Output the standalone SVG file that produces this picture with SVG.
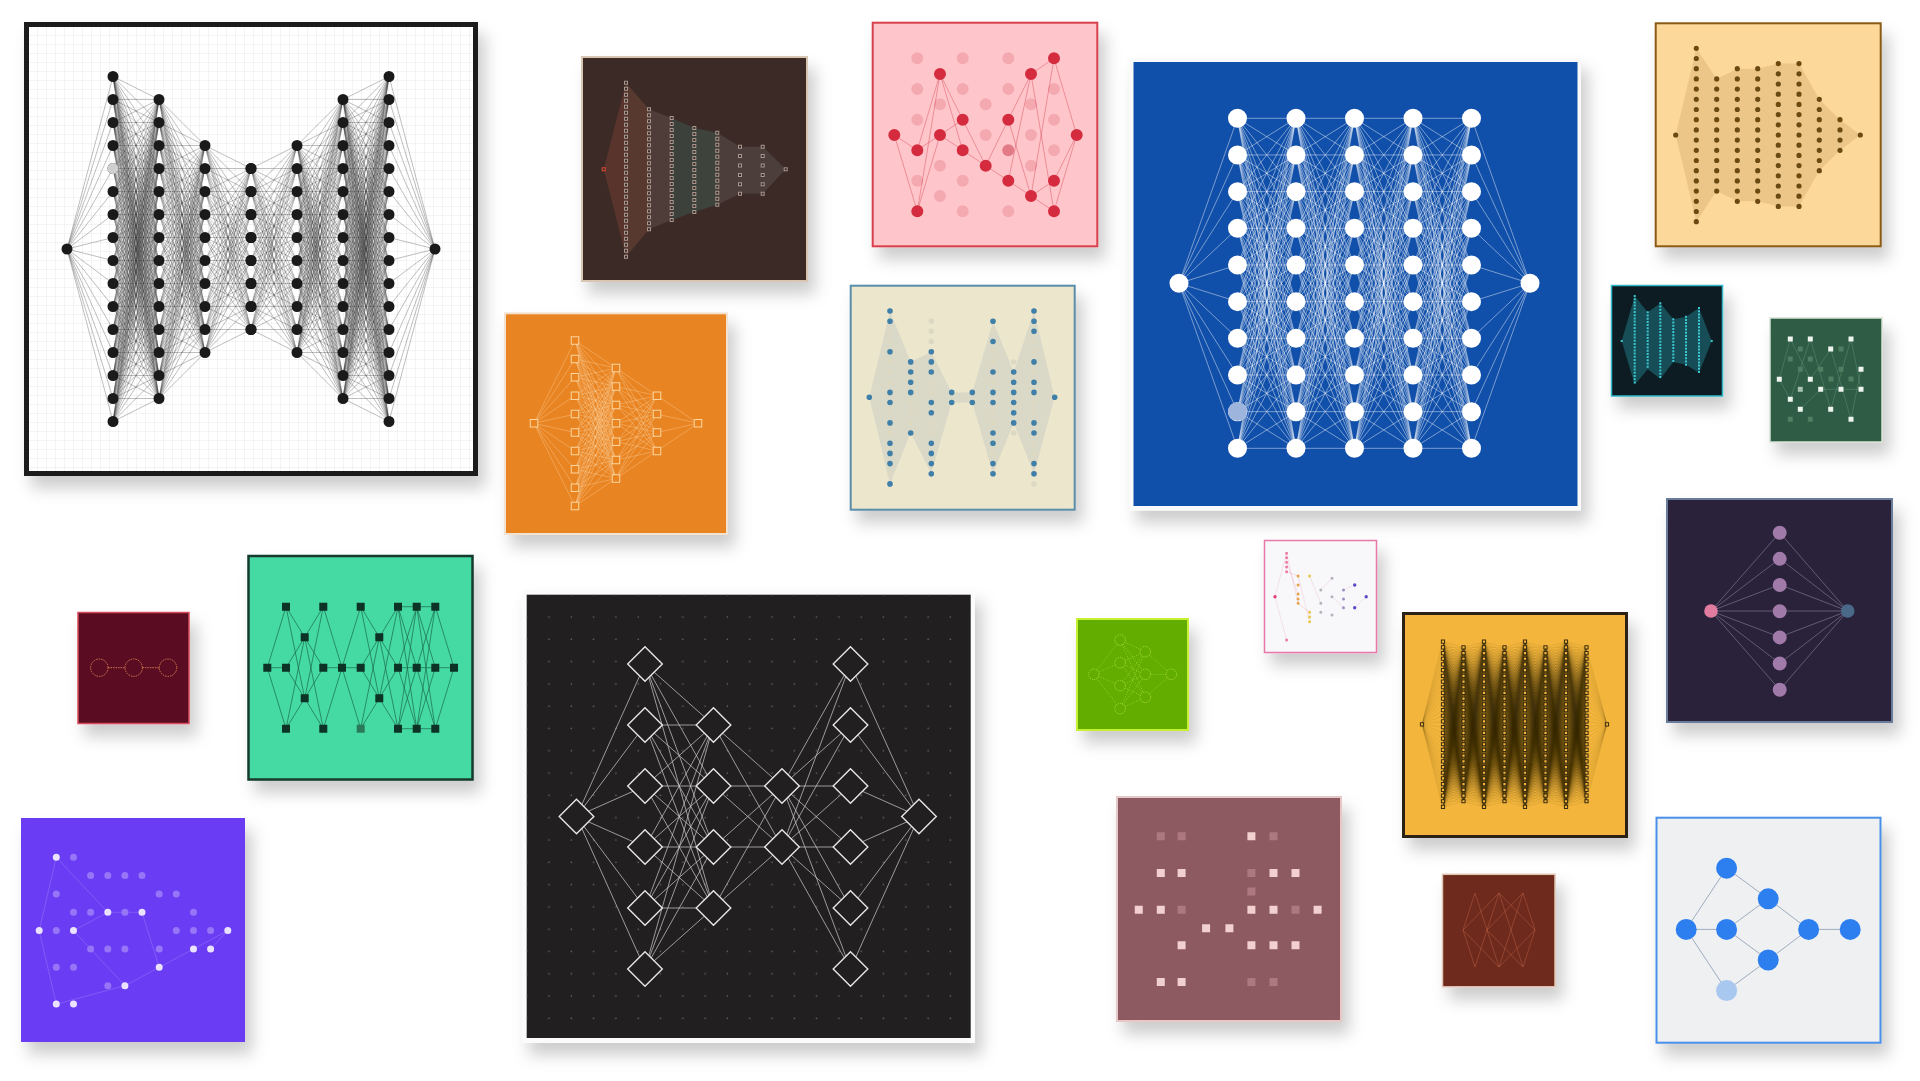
<svg xmlns="http://www.w3.org/2000/svg" width="1920" height="1081" viewBox="0 0 1920 1081">
<style>
.e{fill:none;vector-effect:non-scaling-stroke}
.sh{filter:url(#sh)}
.rd{fill:none;stroke-linecap:round}
.sq{fill:none;stroke-linecap:square}
</style>
<defs>
<filter id="sh" x="-20%" y="-20%" width="150%" height="150%"><feDropShadow dx="7" dy="12" stdDeviation="8" flood-color="#000" flood-opacity=".2"/></filter>
<pattern id="grid" width="9" height="9" patternUnits="userSpaceOnUse" x="29" y="27"><path d="M9 0V9H0" fill="none" stroke="#e3e3e3" stroke-width=".8"/></pattern>
<pattern id="dg" width="22.3" height="22.3" patternUnits="userSpaceOnUse" x="538" y="606"><circle cx="11" cy="11" r=".8" fill="#6a6a6a"/></pattern>
<path id="f2" class="e" d="M0 0 2-.5M0 0 2 .5"/>
<path id="f4" class="e" d="M0 0 2-1.5M0 0 2-.5M0 0 2 .5M0 0 2 1.5"/>
<path id="f6" class="e" d="M0 0 2-2.5M0 0 2-1.5M0 0 2-.5M0 0 2 .5M0 0 2 1.5M0 0 2 2.5"/>
<path id="f7" class="e" d="M0 0 2-3M0 0 2-2M0 0 2-1M0 0 2 0M0 0 2 1M0 0 2 2M0 0 2 3"/>
<path id="f8" class="e" d="M0 0 2-3.5M0 0 2-2.5M0 0 2-1.5M0 0 2-.5M0 0 2 .5M0 0 2 1.5M0 0 2 2.5M0 0 2 3.5"/>
<path id="f10" class="e" d="M0 0 2-4.5M0 0 2-3.5M0 0 2-2.5M0 0 2-1.5M0 0 2-.5M0 0 2 .5M0 0 2 1.5M0 0 2 2.5M0 0 2 3.5M0 0 2 4.5"/>
<path id="f14" class="e" d="M0 0 2-6.5M0 0 2-5.5M0 0 2-4.5M0 0 2-3.5M0 0 2-2.5M0 0 2-1.5M0 0 2-.5M0 0 2 .5M0 0 2 1.5M0 0 2 2.5M0 0 2 3.5M0 0 2 4.5M0 0 2 5.5M0 0 2 6.5"/>
<path id="f16" class="e" d="M0 0 2-7.5M0 0 2-6.5M0 0 2-5.5M0 0 2-4.5M0 0 2-3.5M0 0 2-2.5M0 0 2-1.5M0 0 2-.5M0 0 2 .5M0 0 2 1.5M0 0 2 2.5M0 0 2 3.5M0 0 2 4.5M0 0 2 5.5M0 0 2 6.5M0 0 2 7.5"/>
<path id="f28" class="e" d="M0 0 2-13.5M0 0 2-12.5M0 0 2-11.5M0 0 2-10.5M0 0 2-9.5M0 0 2-8.5M0 0 2-7.5M0 0 2-6.5M0 0 2-5.5M0 0 2-4.5M0 0 2-3.5M0 0 2-2.5M0 0 2-1.5M0 0 2-.5M0 0 2 .5M0 0 2 1.5M0 0 2 2.5M0 0 2 3.5M0 0 2 4.5M0 0 2 5.5M0 0 2 6.5M0 0 2 7.5M0 0 2 8.5M0 0 2 9.5M0 0 2 10.5M0 0 2 11.5M0 0 2 12.5M0 0 2 13.5"/>
<path id="f30" class="e" d="M0 0 2-14.5M0 0 2-13.5M0 0 2-12.5M0 0 2-11.5M0 0 2-10.5M0 0 2-9.5M0 0 2-8.5M0 0 2-7.5M0 0 2-6.5M0 0 2-5.5M0 0 2-4.5M0 0 2-3.5M0 0 2-2.5M0 0 2-1.5M0 0 2-.5M0 0 2 .5M0 0 2 1.5M0 0 2 2.5M0 0 2 3.5M0 0 2 4.5M0 0 2 5.5M0 0 2 6.5M0 0 2 7.5M0 0 2 8.5M0 0 2 9.5M0 0 2 10.5M0 0 2 11.5M0 0 2 12.5M0 0 2 13.5M0 0 2 14.5"/>
<g id="b1">
<use href="#f14" transform="matrix(1 3.75 0 1 0 -7.5)"/><use href="#f14" transform="matrix(1 3.25 0 1 0 -6.5)"/><use href="#f14" transform="matrix(1 2.75 0 1 0 -5.5)"/><use href="#f14" transform="matrix(1 2.25 0 1 0 -4.5)"/><use href="#f14" transform="matrix(1 1.75 0 1 0 -3.5)"/><use href="#f14" transform="matrix(1 1.25 0 1 0 -2.5)"/><use href="#f14" transform="matrix(1 .75 0 1 0 -1.5)"/><use href="#f14" transform="matrix(1 .25 0 1 0 -.5)"/><use href="#f14" transform="matrix(1 -.25 0 1 0 .5)"/><use href="#f14" transform="matrix(1 -.75 0 1 0 1.5)"/><use href="#f14" transform="matrix(1 -1.25 0 1 0 2.5)"/><use href="#f14" transform="matrix(1 -1.75 0 1 0 3.5)"/><use href="#f14" transform="matrix(1 -2.25 0 1 0 4.5)"/><use href="#f14" transform="matrix(1 -2.75 0 1 0 5.5)"/><use href="#f14" transform="matrix(1 -3.25 0 1 0 6.5)"/><use href="#f14" transform="matrix(1 -3.75 0 1 0 7.5)"/>
</g>
<g id="b2">
<use href="#f10" transform="matrix(1 3.25 0 1 0 -6.5)"/><use href="#f10" transform="matrix(1 2.75 0 1 0 -5.5)"/><use href="#f10" transform="matrix(1 2.25 0 1 0 -4.5)"/><use href="#f10" transform="matrix(1 1.75 0 1 0 -3.5)"/><use href="#f10" transform="matrix(1 1.25 0 1 0 -2.5)"/><use href="#f10" transform="matrix(1 .75 0 1 0 -1.5)"/><use href="#f10" transform="matrix(1 .25 0 1 0 -.5)"/><use href="#f10" transform="matrix(1 -.25 0 1 0 .5)"/><use href="#f10" transform="matrix(1 -.75 0 1 0 1.5)"/><use href="#f10" transform="matrix(1 -1.25 0 1 0 2.5)"/><use href="#f10" transform="matrix(1 -1.75 0 1 0 3.5)"/><use href="#f10" transform="matrix(1 -2.25 0 1 0 4.5)"/><use href="#f10" transform="matrix(1 -2.75 0 1 0 5.5)"/><use href="#f10" transform="matrix(1 -3.25 0 1 0 6.5)"/>
</g>
<g id="b3">
<use href="#f8" transform="matrix(1 2.25 0 1 0 -4.5)"/><use href="#f8" transform="matrix(1 1.75 0 1 0 -3.5)"/><use href="#f8" transform="matrix(1 1.25 0 1 0 -2.5)"/><use href="#f8" transform="matrix(1 .75 0 1 0 -1.5)"/><use href="#f8" transform="matrix(1 .25 0 1 0 -.5)"/><use href="#f8" transform="matrix(1 -.25 0 1 0 .5)"/><use href="#f8" transform="matrix(1 -.75 0 1 0 1.5)"/><use href="#f8" transform="matrix(1 -1.25 0 1 0 2.5)"/><use href="#f8" transform="matrix(1 -1.75 0 1 0 3.5)"/><use href="#f8" transform="matrix(1 -2.25 0 1 0 4.5)"/>
</g>
<g id="b4">
<use href="#f10" transform="matrix(1 2.25 0 1 0 -4.5)"/><use href="#f10" transform="matrix(1 1.75 0 1 0 -3.5)"/><use href="#f10" transform="matrix(1 1.25 0 1 0 -2.5)"/><use href="#f10" transform="matrix(1 .75 0 1 0 -1.5)"/><use href="#f10" transform="matrix(1 .25 0 1 0 -.5)"/><use href="#f10" transform="matrix(1 -.25 0 1 0 .5)"/><use href="#f10" transform="matrix(1 -.75 0 1 0 1.5)"/><use href="#f10" transform="matrix(1 -1.25 0 1 0 2.5)"/><use href="#f10" transform="matrix(1 -1.75 0 1 0 3.5)"/><use href="#f10" transform="matrix(1 -2.25 0 1 0 4.5)"/>
</g>
<g id="b5">
<use href="#f7" transform="matrix(1 2.25 0 1 0 -4.5)"/><use href="#f7" transform="matrix(1 1.75 0 1 0 -3.5)"/><use href="#f7" transform="matrix(1 1.25 0 1 0 -2.5)"/><use href="#f7" transform="matrix(1 .75 0 1 0 -1.5)"/><use href="#f7" transform="matrix(1 .25 0 1 0 -.5)"/><use href="#f7" transform="matrix(1 -.25 0 1 0 .5)"/><use href="#f7" transform="matrix(1 -.75 0 1 0 1.5)"/><use href="#f7" transform="matrix(1 -1.25 0 1 0 2.5)"/><use href="#f7" transform="matrix(1 -1.75 0 1 0 3.5)"/><use href="#f7" transform="matrix(1 -2.25 0 1 0 4.5)"/>
</g>
<g id="b6">
<use href="#f4" transform="matrix(1 1.5 0 1 0 -3)"/><use href="#f4" transform="matrix(1 1 0 1 0 -2)"/><use href="#f4" transform="matrix(1 .5 0 1 0 -1)"/><use href="#f4"/><use href="#f4" transform="matrix(1 -.5 0 1 0 1)"/><use href="#f4" transform="matrix(1 -1 0 1 0 2)"/><use href="#f4" transform="matrix(1 -1.5 0 1 0 3)"/>
</g>
<g id="b7">
<use href="#f4" transform="matrix(1 1.25 0 1 0 -2.5)"/><use href="#f4" transform="matrix(1 .75 0 1 0 -1.5)"/><use href="#f4" transform="matrix(1 .25 0 1 0 -.5)"/><use href="#f4" transform="matrix(1 -.25 0 1 0 .5)"/><use href="#f4" transform="matrix(1 -.75 0 1 0 1.5)"/><use href="#f4" transform="matrix(1 -1.25 0 1 0 2.5)"/>
</g>
<g id="b8">
<use href="#f2" transform="matrix(1 .75 0 1 0 -1.5)"/><use href="#f2" transform="matrix(1 .25 0 1 0 -.5)"/><use href="#f2" transform="matrix(1 -.25 0 1 0 .5)"/><use href="#f2" transform="matrix(1 -.75 0 1 0 1.5)"/>
</g>
<g id="b9">
<use href="#f6" transform="matrix(1 .25 0 1 0 -.5)"/><use href="#f6" transform="matrix(1 -.25 0 1 0 .5)"/>
</g>
<g id="g3"><use href="#f28" transform="matrix(1 .5 0 1 0 -1)"/><use href="#f28"/><use href="#f28" transform="matrix(1 -.5 0 1 0 1)"/></g>
<g id="g7"><use href="#g3" transform="matrix(1 1 0 1 0 -2)"/><use href="#f28"/><use href="#g3" transform="matrix(1 -1 0 1 0 2)"/></g>
<g id="g15"><use href="#g7" transform="matrix(1 2 0 1 0 -4)"/><use href="#f28"/><use href="#g7" transform="matrix(1 -2 0 1 0 4)"/></g>
<g id="bb"><use href="#g15" transform="matrix(1 3.75 0 1 0 -7.5)"/><use href="#g15" transform="matrix(1 -3.75 0 1 0 7.5)"/></g>
</defs>

<rect width="1920" height="1081" fill="#ffffff"/>

<!-- Panel 1: white grid -->
<g id="panel1">
<rect x="26.5" y="24.5" width="449" height="449" fill="#fff" stroke="#1c1c1c" stroke-width="5" class="sh"/>
<rect x="29" y="27" width="444" height="444" fill="url(#grid)"/>
<g id="p1h">
<g stroke="#3a3a3a" stroke-opacity=".55" stroke-width=".6">
<use href="#f16" transform="translate(67 249) scale(23)"/>
<use href="#b1" transform="translate(113 249) scale(23)"/>
<use href="#b2" transform="translate(159 249) scale(23)"/>
<use href="#b3" transform="translate(205 249) scale(23)"/>
</g>
<g class="rd" stroke="#1a1a1a" stroke-width="11" stroke-dasharray="0 23">
<path d="M113 76.5V422"/><path d="M159 99.5V399"/><path d="M205 145.5V353"/><path d="M251 168.5V330"/>
</g>
<circle cx="67" cy="249" r="5.5" fill="#1a1a1a"/>
</g>
<use href="#p1h" transform="matrix(-1 0 0 1 502 0)"/>
<circle cx="113" cy="168.5" r="5.5" fill="#cfcfcf"/>
</g>

<!-- Panel 2: dark brown -->
<g id="panel2">
<rect x="582" y="57" width="225" height="224" fill="#3b2b27" stroke="#d9c6b2" stroke-width="2" class="sh"/>
<g fill-opacity=".2">
<path d="M603.7 169.3 626 82.7V256.7Z" fill="#d0604a"/>
<path d="M626 82.7 649 109.3V229.3L626 256.7Z" fill="#c87a5a"/>
<path d="M649 109.3 671.7 118V220L649 229.3Z" fill="#a08a88"/>
<path d="M671.7 118 694.3 128V212L671.7 220Z" fill="#3fa090"/>
<path d="M694.3 128 717.3 132.7V204.7L694.3 212Z" fill="#4aa898"/>
<path d="M717.3 132.7 740 146.7V193.7L717.3 204.7Z" fill="#8a9090"/>
<path d="M740 146.7 762.7 146.7V193.7L740 193.7Z" fill="#909090"/>
<path d="M762.7 146.7 785.7 169.3 762.7 193.7Z" fill="#909090"/>
</g>
<g class="sq" stroke="#a89890" stroke-width="4">
<path d="M626 82.7V257.5M649 109.3V230M671.7 118V221M694.3 128V213M717.3 132.7V205.5" stroke-dasharray="0 6"/>
<path d="M740 146.7V194.5M762.7 146.7V194.5" stroke-dasharray="0 9.4"/>
<path d="M785.7 169.3h0"/>
<path d="M603.7 169.3h0" stroke="#e04a36"/>
</g>
<g class="sq" stroke="#3b2b27" stroke-width="2">
<path d="M626 82.7V257.5M649 109.3V230M671.7 118V221M694.3 128V213M717.3 132.7V205.5" stroke-dasharray="0 6"/>
<path d="M740 146.7V194.5M762.7 146.7V194.5" stroke-dasharray="0 9.4"/>
<path d="M785.7 169.3h0M603.7 169.3h0"/>
</g>
</g>

<!-- Panel 3: pink -->
<g id="panel3">
<rect x="872.7" y="22.7" width="224.6" height="223.6" fill="#fec6ca" stroke="#d9404e" stroke-width="2" class="sh"/>
<path class="rd" stroke="#f4a9b1" stroke-width="12" d="M917.3 58.3h0M917.3 89h0M917.3 119.7h0M917.3 180.7h0M940 104.3h0M940 165.7h0M940 196h0M962.7 58.3h0M962.7 89h0M962.7 180.7h0M962.7 211.3h0M985.7 104.3h0M985.7 135h0M1008.3 58.3h0M1008.3 89h0M1008.3 211.3h0M1031 104.3h0M1031 135h0M1031 165.7h0M1054 89h0M1054 119.7h0M1054 150.3h0"/>
<path fill="none" stroke="#d23848" stroke-opacity=".5" stroke-width=".8" d="M894.3 135 917.3 150.3M894.3 135 917.3 211.3M917.3 150.3 940 74M917.3 150.3 940 135M917.3 211.3 940 74M917.3 211.3 940 135M940 74 962.7 119.7M940 74 962.7 150.3M940 135 962.7 119.7M940 135 962.7 150.3M962.7 119.7 985.7 165.7M962.7 150.3 985.7 165.7M985.7 165.7 1008.3 119.7M985.7 165.7 1008.3 180.7M1008.3 119.7 1031 74M1008.3 119.7 1031 196M1008.3 180.7 1031 74M1008.3 180.7 1031 196M1031 74 1054 58.3M1031 74 1054 211.3M1031 196 1054 180.7M1031 196 1054 211.3M1031 196 1054 58.3M1054 58.3 1076.7 135M1054 180.7 1076.7 135M1054 211.3 1076.7 135"/>
<path class="rd" stroke="#e27a88" stroke-width="12" d="M1008.3 150.3h0"/>
<path class="rd" stroke="#d52b3f" stroke-width="12" d="M894.3 135h0M917.3 150.3h0M917.3 211.3h0M940 74h0M940 135h0M962.7 119.7h0M962.7 150.3h0M985.7 165.7h0M1008.3 119.7h0M1008.3 180.7h0M1031 74h0M1031 196h0M1054 58.3h0M1054 180.7h0M1054 211.3h0M1076.7 135h0"/>
</g>

<!-- Panel 4: blue -->
<g id="panel4">
<rect x="1129" y="57.5" width="452" height="453" fill="#fafafa" class="sh"/>
<rect x="1133.5" y="62" width="444" height="444" fill="#1150aa"/>
<g stroke="#ffffff" stroke-opacity=".55" stroke-width=".8">
<use href="#f10" transform="translate(1179 283.3) scale(29.25 36.67)"/>
<use href="#b4" transform="translate(1237.5 283.3) scale(29.25 36.67)"/>
<use href="#b4" transform="translate(1296 283.3) scale(29.25 36.67)"/>
<use href="#b4" transform="translate(1354.5 283.3) scale(29.25 36.67)"/>
<use href="#b4" transform="translate(1413 283.3) scale(29.25 36.67)"/>
<use href="#f10" transform="translate(1530 283.3) scale(-29.25 36.67)"/>
</g>
<path class="rd" stroke="#ffffff" stroke-width="19" stroke-dasharray="0 36.67" d="M1237.5 118.3V449M1296 118.3V449M1354.5 118.3V449M1413 118.3V449M1471.5 118.3V449"/>
<path class="rd" stroke="#ffffff" stroke-width="19" d="M1179 283.3h0M1530 283.3h0"/>
<circle cx="1237.5" cy="411.6" r="9.5" fill="#9db4dc"/>
</g>

<!-- Panel 5: peach top right -->
<g id="panel5">
<rect x="1655.7" y="23.3" width="225" height="223" fill="#fcd89a" stroke="#8a5a14" stroke-width="2" class="sh"/>
<g fill="#9a7030" fill-opacity=".17">
<path d="M1675.7 135 1696.3 48.3V221.7Z"/>
<path d="M1696.3 48.3 1716.7 78.9V191.1L1696.3 221.7Z"/>
<path d="M1716.7 78.9 1737.3 68.7V201.3L1716.7 191.1Z"/>
<path d="M1737.3 68.7 1757.7 68.7V201.3L1737.3 201.3Z"/>
<path d="M1757.7 68.7 1778.3 63.6V206.4L1757.7 201.3Z"/>
<path d="M1778.3 63.6 1799 63.6V206.4L1778.3 206.4Z"/>
<path d="M1799 63.6 1819.3 99.3V170.7L1799 206.4Z"/>
<path d="M1819.3 99.3 1840 119.7V150.3L1819.3 170.7Z"/>
<path d="M1840 119.7 1860.3 135 1840 150.3Z"/>
</g>
<path class="rd" stroke="#6b4a12" stroke-width="5.2" stroke-dasharray="0 10.2" d="M1696.3 48.3V222.5M1716.7 78.9V192M1737.3 68.7V202M1757.7 68.7V202M1778.3 63.6V207M1799 63.6V207M1819.3 99.3V171.5M1840 119.7V151"/>
<path class="rd" stroke="#6b4a12" stroke-width="5.2" d="M1675.7 135h0M1860.3 135h0"/>
</g>

<!-- Panel 6: orange -->
<g id="panel6">
<rect x="505" y="313.3" width="222" height="220.7" fill="#e98420" stroke="#f3e2cf" stroke-width="2" class="sh"/>
<g stroke="#fcd9a8" stroke-opacity=".6" stroke-width=".6">
<use href="#f10" transform="translate(534 423.3) scale(20.5 18.4)"/>
<use href="#b5" transform="translate(575 423.3) scale(20.5 18.4)"/>
<use href="#b6" transform="translate(616 423.3) scale(20.5 18.4)"/>
<use href="#f4" transform="translate(698 423.3) scale(-20.5 18.4)"/>
</g>
<g class="sq" stroke="#fbd6a0" stroke-width="8.5">
<path d="M575 340.5V507M616 368.1V479M657 395.7V451.5" stroke-dasharray="0 18.4"/>
<path d="M534 423.3h0M698 423.3h0"/>
</g>
<g class="sq" stroke="#e98420" stroke-width="6.5">
<path d="M575 340.5V507M616 368.1V479M657 395.7V451.5" stroke-dasharray="0 18.4"/>
<path d="M534 423.3h0M698 423.3h0"/>
</g>
</g>

<!-- Panel 7: cream -->
<g id="panel7">
<rect x="850.7" y="285.7" width="224" height="224" fill="#ece6cd" stroke="#5a8ea8" stroke-width="2" class="sh"/>
<g fill="#8aa2b4" fill-opacity=".18">
<path d="M869.3 397.3 890 311V483.9Z"/>
<path d="M890 311 910.7 361.9V433L890 483.9Z"/>
<path d="M910.7 361.9 931.3 351.7V473.7L910.7 433Z"/>
<path d="M931.3 351.7 951.7 392.4V402.5L931.3 473.7Z"/>
<path d="M951.7 392.4H972.3V402.5H951.7Z"/>
<path d="M972.3 392.4 993 321.2V473.7L972.3 402.5Z"/>
<path d="M993 321.2 1013.7 372V422.9L993 473.7Z"/>
<path d="M1013.7 372 1034 311V473.7L1013.7 422.9Z"/>
<path d="M1034 311 1054.7 397.3 1034 473.7Z"/>
</g>
<path class="rd" stroke="#ddd8c2" stroke-width="5.5" stroke-dasharray="0 10.17" d="M890 311V485M910.7 361.9V434M931.3 321.2V474.5M993 321.2V474.5M1013.7 361.9V434M1034 311V485"/>
<path class="rd" stroke="#3f7fa8" stroke-width="5.6" d="M869.3 397.3h0M1054.7 397.3h0M890 311h0M890 321.2h0M890 351.7h0M890 392.4h0M890 402.5h0M890 422.9h0M890 443.2h0M890 453.4h0M890 463.6h0M890 483.9h0M910.7 361.9h0M910.7 372h0M910.7 382.2h0M910.7 392.4h0M910.7 433h0M931.3 351.7h0M931.3 361.9h0M931.3 372h0M931.3 402.5h0M931.3 412.7h0M931.3 443.2h0M931.3 453.4h0M931.3 463.6h0M931.3 473.7h0M951.7 392.4h0M951.7 402.5h0M972.3 392.4h0M972.3 402.5h0M993 321.2h0M993 341.5h0M993 372h0M993 392.4h0M993 402.5h0M993 433h0M993 443.2h0M993 463.6h0M993 473.7h0M1013.7 372h0M1013.7 382.2h0M1013.7 392.4h0M1013.7 402.5h0M1013.7 412.7h0M1013.7 422.9h0M1034 311h0M1034 321.2h0M1034 331.3h0M1034 361.9h0M1034 382.2h0M1034 392.4h0M1034 422.9h0M1034 433h0M1034 463.6h0M1034 473.7h0"/>
</g>

<!-- Panel 8: dark teal -->
<g id="panel8">
<rect x="1611.5" y="285.5" width="111" height="110.5" fill="#0b1a22" stroke="#2fb8c8" stroke-width="1.5" class="sh"/>
<g fill="#2aa8b8" fill-opacity=".35">
<path d="M1621.7 341 1634.7 296V384.7Z"/>
<path d="M1634.7 296 1647.7 312.3V369.3L1634.7 384.7Z"/>
<path d="M1647.7 312.3 1660.3 303.3V378.7L1647.7 369.3Z"/>
<path d="M1660.3 303.3 1673.3 319.3V362L1660.3 378.7Z"/>
<path d="M1673.3 319.3 1686 316.7V364.7L1673.3 362Z"/>
<path d="M1686 316.7 1699 308V372.7L1686 364.7Z"/>
<path d="M1699 308 1711.7 341 1699 372.7Z"/>
</g>
<path class="sq" stroke="#3cc8d0" stroke-width="2" stroke-dasharray="0 3.2" d="M1634.7 296V385.5M1647.7 312.3V369.5M1660.3 303.3V379M1673.3 319.3V362.5M1686 316.7V365M1699 308V373"/>
<path class="sq" stroke="#3cc8d0" stroke-width="2" d="M1621.7 341h0M1711.7 341h0"/>
</g>

<!-- Panel 9: dark green -->
<g id="panel9">
<rect x="1770" y="318" width="112" height="124" fill="#2f5b45" stroke="#d6e2d6" stroke-width="1.5" class="sh"/>
<path fill="none" stroke="#6a9a7c" stroke-opacity=".7" stroke-width=".6" d="M1779.3 379.3 1790.3 339M1779.3 379.3 1790.3 399.3M1790.3 339 1810.3 379.3M1790.3 399.3 1810.3 339M1810.3 339 1830.7 409.3M1810.3 379.3 1830.7 349M1830.7 349 1851 419.3M1830.7 409.3 1851 339M1851 339 1861 389.3M1851 419.3 1861 369.3M1800.3 409.3 1820.7 389.3M1820.7 389.3 1841 389.3M1841 389.3 1861 389.3"/>
<path class="sq" stroke="#4f7e62" stroke-width="5" d="M1800.3 349h0M1790.3 359h0M1810.3 359h0M1800.3 369.3h0M1820.7 369.3h0M1841 369.3h0M1831 379h0M1851 379h0M1790.3 419.3h0M1810.3 419.3h0M1841 349h0"/>
<path class="sq" stroke="#a8c0b0" stroke-width="5" d="M1800.3 389.3h0"/>
<path class="sq" stroke="#eef4ee" stroke-width="5" d="M1790.3 339h0M1810.3 339h0M1851 339h0M1830.7 349h0M1861 369.3h0M1779.3 379.3h0M1810.3 379.3h0M1820.7 389.3h0M1841 389.3h0M1861 389.3h0M1790.3 399.3h0M1800.3 409.3h0M1830.7 409.3h0M1851 419.3h0"/>
</g>

<!-- Panel 10: navy -->
<g id="panel10">
<rect x="1667" y="499" width="225" height="223" fill="#29243a" stroke="#6a7c9c" stroke-width="2" class="sh"/>
<path fill="none" stroke="#6e6a80" stroke-width=".8" d="M1711 611 1779.7 532.7M1711 611 1779.7 558.7M1711 611 1779.7 584.7M1711 611 1779.7 611M1711 611 1779.7 637M1711 611 1779.7 663.3M1711 611 1779.7 689.7M1779.7 532.7 1847.7 611M1779.7 558.7 1847.7 611M1779.7 584.7 1847.7 611M1779.7 611 1847.7 611M1779.7 637 1847.7 611M1779.7 663.3 1847.7 611M1779.7 689.7 1847.7 611"/>
<path class="rd" stroke="#a07aa8" stroke-width="14" stroke-dasharray="0 26.17" d="M1779.7 532.7V690.5"/>
<circle cx="1711" cy="611" r="6.8" fill="#e07ca0"/>
<circle cx="1847.7" cy="611" r="6.8" fill="#4a6888"/>
</g>

<!-- Panel 11: maroon -->
<g id="panel11">
<rect x="78" y="612.5" width="111" height="111" fill="#5a0f24" stroke="#d84a5a" stroke-width="1.5" class="sh"/>
<g fill="none" stroke="#d9824f" stroke-width=".9" stroke-dasharray="1.5 1">
<circle cx="99.3" cy="667.7" r="8.7"/><circle cx="133.7" cy="667.7" r="8.7"/><circle cx="168" cy="667.7" r="8.7"/>
<path d="M108 667.7H125M142.4 667.7H159.3"/>
</g>
</g>

<!-- Panel 12: mint -->
<g id="panel12">
<rect x="248.5" y="556" width="224" height="223.5" fill="#44d9a4" stroke="#163a2e" stroke-width="2.5" class="sh"/>
<path fill="none" stroke="#1b6a4c" stroke-width=".7" d="M267.3 667.7 286 606.7M267.3 667.7 286 667.7M267.3 667.7 286 728.7M286 606.7 304.7 637.3M286 606.7 304.7 698.3M286 667.7 304.7 637.3M286 667.7 304.7 698.3M286 728.7 304.7 637.3M286 728.7 304.7 698.3M304.7 637.3 323.3 606.7M304.7 637.3 323.3 667.7M304.7 637.3 323.3 728.7M304.7 698.3 323.3 606.7M304.7 698.3 323.3 667.7M304.7 698.3 323.3 728.7M323.3 606.7 342 667.7M323.3 667.7 342 667.7M323.3 728.7 342 667.7M342 667.7 360.7 606.7M342 667.7 360.7 667.7M342 667.7 360.7 728.7M360.7 606.7 379.3 637.3M360.7 606.7 379.3 698.3M360.7 667.7 379.3 637.3M360.7 667.7 379.3 698.3M360.7 728.7 379.3 637.3M360.7 728.7 379.3 698.3M379.3 637.3 398 606.7M379.3 637.3 398 667.7M379.3 637.3 398 728.7M379.3 698.3 398 606.7M379.3 698.3 398 667.7M379.3 698.3 398 728.7M398 606.7 416.7 606.7M398 606.7 416.7 667.7M398 606.7 416.7 728.7M398 667.7 416.7 606.7M398 667.7 416.7 667.7M398 667.7 416.7 728.7M398 728.7 416.7 606.7M398 728.7 416.7 667.7M398 728.7 416.7 728.7M416.7 606.7 435.3 606.7M416.7 606.7 435.3 667.7M416.7 606.7 435.3 728.7M416.7 667.7 435.3 606.7M416.7 667.7 435.3 667.7M416.7 667.7 435.3 728.7M416.7 728.7 435.3 606.7M416.7 728.7 435.3 667.7M416.7 728.7 435.3 728.7M435.3 606.7 454 667.7M435.3 667.7 454 667.7M435.3 728.7 454 667.7"/>
<path class="sq" stroke="#0d3226" stroke-width="8" d="M267.3 667.7h0M286 606.7h0M286 667.7h0M286 728.7h0M304.7 637.3h0M304.7 698.3h0M323.3 606.7h0M323.3 667.7h0M323.3 728.7h0M342 667.7h0M360.7 606.7h0M360.7 667.7h0M379.3 637.3h0M379.3 698.3h0M398 606.7h0M398 667.7h0M398 728.7h0M416.7 606.7h0M416.7 667.7h0M416.7 728.7h0M435.3 606.7h0M435.3 667.7h0M435.3 728.7h0M454 667.7h0"/>
<path class="sq" stroke="#2a7a5a" stroke-width="8" d="M360.7 728.7h0"/>
</g>

<!-- Panel 13: black diamonds -->
<g id="panel13">
<rect x="522" y="590" width="453" height="453" fill="#fbfbfb" class="sh"/>
<rect x="526.7" y="594.7" width="444" height="443.3" fill="#221f20"/>
<rect x="526.7" y="594.7" width="444" height="443.3" fill="url(#dg)"/>
<g stroke="#cfcfcf" stroke-opacity=".7" stroke-width="1">
<use href="#f6" transform="translate(576.5 816.5) scale(34.25 61)"/>
<use href="#b7" transform="translate(645 816.5) scale(34.25 61)"/>
<use href="#b8" transform="translate(713.5 816.5) scale(34.25 61)"/>
<use href="#b9" transform="translate(782 816.5) scale(34.25 61)"/>
<use href="#f6" transform="translate(919 816.5) scale(-34.25 61)"/>
</g>
<path fill="#221f20" stroke="#e6e6e6" stroke-width="1.4" d="M576.5 799.2l17.3 17.3-17.3 17.3-17.3-17.3zM645 646.7l17.3 17.3-17.3 17.3-17.3-17.3zM645 707.7l17.3 17.3-17.3 17.3-17.3-17.3zM645 768.7l17.3 17.3-17.3 17.3-17.3-17.3zM645 829.7l17.3 17.3-17.3 17.3-17.3-17.3zM645 890.7l17.3 17.3-17.3 17.3-17.3-17.3zM645 951.7l17.3 17.3-17.3 17.3-17.3-17.3zM713.5 707.7l17.3 17.3-17.3 17.3-17.3-17.3zM713.5 768.7l17.3 17.3-17.3 17.3-17.3-17.3zM713.5 829.7l17.3 17.3-17.3 17.3-17.3-17.3zM713.5 890.7l17.3 17.3-17.3 17.3-17.3-17.3zM782 768.7l17.3 17.3-17.3 17.3-17.3-17.3zM782 829.7l17.3 17.3-17.3 17.3-17.3-17.3zM850.5 646.7l17.3 17.3-17.3 17.3-17.3-17.3zM850.5 707.7l17.3 17.3-17.3 17.3-17.3-17.3zM850.5 768.7l17.3 17.3-17.3 17.3-17.3-17.3zM850.5 829.7l17.3 17.3-17.3 17.3-17.3-17.3zM850.5 890.7l17.3 17.3-17.3 17.3-17.3-17.3zM850.5 951.7l17.3 17.3-17.3 17.3-17.3-17.3zM919 799.2l17.3 17.3-17.3 17.3-17.3-17.3z"/>
</g>

<!-- Panel 14: lime -->
<g id="panel14">
<rect x="1077" y="619" width="111" height="111" fill="#62ad00" stroke="#c8f030" stroke-width="2" class="sh"/>
<path fill="none" stroke="#a8dc3a" stroke-width=".7" stroke-dasharray="1 1.5" d="M1093.8 674.3 1120.1 640M1093.8 674.3 1120.1 662.7M1093.8 674.3 1120.1 685.7M1093.8 674.3 1120.1 708.7M1120.1 640 1145.3 651.7M1120.1 640 1145.3 674.3M1120.1 640 1145.3 697.3M1120.1 662.7 1145.3 651.7M1120.1 662.7 1145.3 674.3M1120.1 662.7 1145.3 697.3M1120.1 685.7 1145.3 651.7M1120.1 685.7 1145.3 674.3M1120.1 685.7 1145.3 697.3M1120.1 708.7 1145.3 651.7M1120.1 708.7 1145.3 674.3M1120.1 708.7 1145.3 697.3M1145.3 651.7 1171.3 674.3M1145.3 674.3 1171.3 674.3M1145.3 697.3 1171.3 674.3"/>
<g fill="#62ad00" stroke="#b5e63c" stroke-width=".8" stroke-dasharray="1.2 1">
<circle cx="1093.8" cy="674.3" r="5.3"/><circle cx="1120.1" cy="640" r="5.3"/><circle cx="1120.1" cy="662.7" r="5.3"/><circle cx="1120.1" cy="685.7" r="5.3"/><circle cx="1120.1" cy="708.7" r="5.3"/><circle cx="1145.3" cy="651.7" r="5.3"/><circle cx="1145.3" cy="674.3" r="5.3"/><circle cx="1145.3" cy="697.3" r="5.3"/><circle cx="1171.3" cy="674.3" r="5.3"/>
</g>
</g>

<!-- Panel 15: white small -->
<g id="panel15">
<rect x="1264.5" y="540.5" width="112" height="112" fill="#f8f8fa" stroke="#e878a8" stroke-width="1.5" class="sh"/>
<path fill="none" stroke="#e8a0b8" stroke-opacity=".6" stroke-width=".5" d="M1275 596.7 1286.6 553.3M1275 596.7 1286.6 640M1286.6 553.3 1298.1 603.3M1286.6 571.7 1298.1 576M1286.6 562.3 1298.1 594M1298.1 576 1309.6 621.7M1298.1 603.3 1309.6 612.3M1309.6 576 1320.8 603.3M1320.8 590 1332 578.3M1332 596.7 1343.5 607.7M1343.5 590 1354.7 585M1354.7 607.7 1366.2 596.7"/>
<path class="rd" stroke-width="3" stroke="#ee7aa6" d="M1286.6 553.3h0M1286.6 557.7h0M1286.6 562.3h0M1286.6 567h0M1286.6 571.7h0M1286.6 640h0"/>
<path class="rd" stroke-width="3" stroke="#e9a04a" d="M1298.1 576h0M1298.1 585h0M1298.1 594h0M1298.1 599h0M1298.1 603.3h0"/>
<path class="rd" stroke-width="3" stroke="#e8c84a" d="M1309.6 576h0M1309.6 612.3h0M1309.6 617h0M1309.6 621.7h0"/>
<path class="rd" stroke-width="3" stroke="#b4b2bc" d="M1320.8 590h0M1320.8 603.3h0M1320.8 612.3h0M1332 578.3h0M1332 596.7h0M1332 615h0"/>
<path class="rd" stroke-width="3" stroke="#9a90c4" d="M1343.5 590h0M1343.5 599h0M1343.5 607.7h0"/>
<path class="rd" stroke-width="3.4" stroke="#5a48c8" d="M1354.7 585h0M1354.7 607.7h0M1366.2 596.7h0"/>
<path class="rd" stroke-width="3.4" stroke="#e23e7a" d="M1275 596.7h0"/>
</g>

<!-- Panel 16: yellow-orange dense -->
<g id="panel16">
<rect x="1403.5" y="613.5" width="223" height="223" fill="#f3b53a" stroke="#2a2418" stroke-width="3" class="sh"/>
<g stroke="#3b2a0c" stroke-opacity=".22" stroke-width=".4">
<use href="#f30" transform="translate(1422 724.3) scale(10.25 5.7)"/>
<use href="#bb" transform="translate(1443 724.3) scale(10.25 5.7)"/>
<use href="#bb" transform="translate(1484 724.3) scale(10.25 5.7)"/>
<use href="#bb" transform="translate(1525 724.3) scale(10.25 5.7)"/>
<use href="#bb" transform="translate(1566 724.3) scale(10.25 5.7)"/>
<use href="#bb" transform="translate(1484 724.3) scale(-10.25 5.7)"/>
<use href="#bb" transform="translate(1525 724.3) scale(-10.25 5.7)"/>
<use href="#bb" transform="translate(1566 724.3) scale(-10.25 5.7)"/>
<use href="#f28" transform="translate(1607 724.3) scale(-10.25 5.7)"/>
</g>
<g class="sq" stroke="#3a2c10" stroke-width="4.2">
<path stroke-dasharray="0 5.7" d="M1443 641.65V807.5M1484 641.65V807.5M1525 641.65V807.5M1566 641.65V807.5M1463.5 647.35V802M1504.5 647.35V802M1545.5 647.35V802M1586.5 647.35V802"/>
<path d="M1422 724.3h0M1607 724.3h0"/>
</g>
<g class="sq" stroke="#f3b53a" stroke-width="2.2">
<path stroke-dasharray="0 5.7" d="M1443 641.65V807.5M1484 641.65V807.5M1525 641.65V807.5M1566 641.65V807.5M1463.5 647.35V802M1504.5 647.35V802M1545.5 647.35V802M1586.5 647.35V802"/>
<path d="M1422 724.3h0M1607 724.3h0"/>
</g>
</g>

<!-- Panel 17: purple -->
<g id="panel17">
<rect x="21" y="818" width="224" height="224" fill="#6b3cf5" class="sh"/>
<path fill="none" stroke="#8e6ef6" stroke-width=".6" d="M39.2 930.6 56.3 857.2M39.2 930.6 56.3 1004.1M56.3 857.2 107.8 912.3M73.5 930.6 107.8 912.3M73.5 930.6 124.9 985.7M107.8 912.3 142 912.3M142 912.3 159.2 967.3M124.9 985.7 159.2 967.3M159.2 967.3 193.5 949M193.5 949 227.8 930.6M210.6 949 227.8 930.6M56.3 1004.1 124.9 985.7"/>
<path class="rd" stroke="#9676f7" stroke-width="7" d="M73.5 857.2h0M90.6 875.5h0M107.8 875.5h0M124.9 875.5h0M142 875.5h0M56.3 893.9h0M159.2 893.9h0M176.3 893.9h0M73.5 912.3h0M90.6 912.3h0M124.9 912.3h0M193.5 912.3h0M56.3 930.6h0M176.3 930.6h0M193.5 930.6h0M210.6 930.6h0M90.6 949h0M107.8 949h0M124.9 949h0M159.2 949h0M56.3 967.3h0M73.5 967.3h0M107.8 985.7h0"/>
<path class="rd" stroke="#ebe2ff" stroke-width="7" d="M56.3 857.2h0M107.8 912.3h0M142 912.3h0M39.2 930.6h0M73.5 930.6h0M227.8 930.6h0M193.5 949h0M210.6 949h0M159.2 967.3h0M124.9 985.7h0M56.3 1004.1h0M73.5 1004.1h0"/>
</g>

<!-- Panel 18: mauve -->
<g id="panel18">
<rect x="1117" y="797" width="224" height="224" fill="#8e5a62" stroke="#e6c8c6" stroke-width="2" class="sh"/>
<path class="sq" stroke="#ad7880" stroke-width="8" d="M1160.8 836.3h0M1181.6 836.3h0M1273.5 836.3h0M1251.4 873.1h0M1251.4 891.4h0M1181.6 909.8h0M1295.5 909.8h0M1251.4 982.1h0M1273.5 982.1h0"/>
<path class="sq" stroke="#f2d0cf" stroke-width="8" d="M1251.4 836.3h0M1160.8 873.1h0M1181.6 873.1h0M1273.5 873.1h0M1295.5 873.1h0M1138.8 909.8h0M1160.8 909.8h0M1251.4 909.8h0M1273.5 909.8h0M1317.6 909.8h0M1206.1 928.2h0M1229.4 928.2h0M1181.6 945.3h0M1251.4 945.3h0M1273.5 945.3h0M1295.5 945.3h0M1160.8 982.1h0M1181.6 982.1h0"/>
</g>

<!-- Panel 19: dark red-brown -->
<g id="panel19">
<rect x="1442.5" y="874.3" width="112.5" height="112.5" fill="#6e2a1a" stroke="#e0c4b4" stroke-width="1.5" class="sh"/>
<path fill="none" stroke="#c86a4a" stroke-opacity=".7" stroke-width=".6" d="M1463 930 1475 893 1487 930 1475 967ZM1487 930 1499 893 1511 930 1499 967ZM1511 930 1523 893 1535 930 1523 967ZM1463 930 1499 893M1463 930 1499 967M1487 930 1523 893M1487 930 1523 967M1499 893 1535 930M1499 967 1535 930"/>
</g>

<!-- Panel 20: light gray with blue -->
<g id="panel20">
<rect x="1656.5" y="817.7" width="224" height="225" fill="#eef0f2" stroke="#4a90e8" stroke-width="2" class="sh"/>
<path fill="none" stroke="#8a9ab0" stroke-width=".8" d="M1686.2 929.4 1726.6 868.2M1686.2 929.4 1726.6 929.4M1686.2 929.4 1726.6 990.6M1726.6 868.2 1768.2 898.8M1726.6 929.4 1768.2 898.8M1726.6 929.4 1768.2 960M1726.6 990.6 1768.2 960M1768.2 898.8 1808.6 929.4M1768.2 960 1808.6 929.4M1808.6 929.4 1850.2 929.4"/>
<path class="rd" stroke="#2d7ff0" stroke-width="21" d="M1686.2 929.4h0M1726.6 868.2h0M1726.6 929.4h0M1768.2 898.8h0M1768.2 960h0M1808.6 929.4h0M1850.2 929.4h0"/>
<path class="rd" stroke="#a8c8f0" stroke-width="21" d="M1726.6 990.6h0"/>
</g>
</svg>
